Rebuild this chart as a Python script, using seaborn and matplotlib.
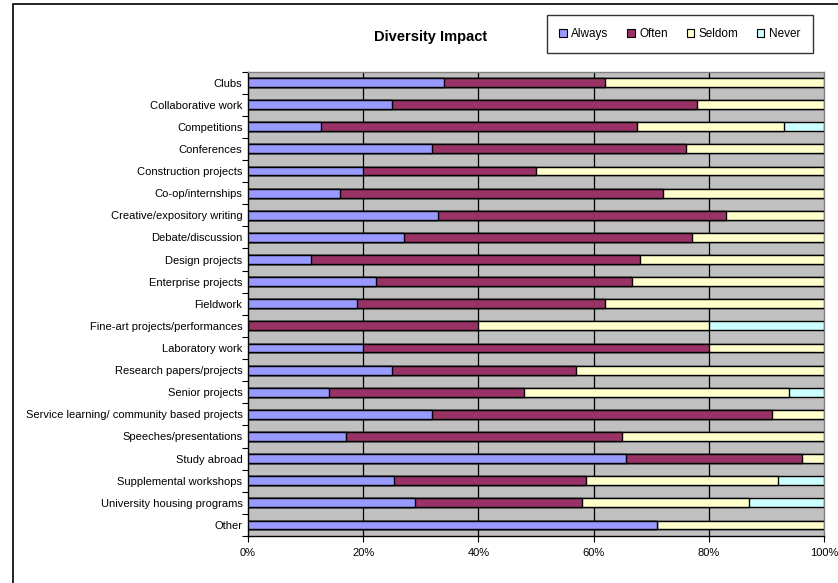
import matplotlib
matplotlib.use("Agg")
import matplotlib.pyplot as plt
from matplotlib.patches import Rectangle, Patch
import numpy as np
import pandas as pd
import seaborn as sns

categories = [
    "Clubs", "Collaborative work", "Competitions", "Conferences",
    "Construction projects", "Co-op/internships", "Creative/expository writing",
    "Debate/discussion", "Design projects", "Enterprise projects", "Fieldwork",
    "Fine-art projects/performances", "Laboratory work", "Research papers/projects",
    "Senior projects", "Service learning/ community based projects",
    "Speeches/presentations", "Study abroad", "Supplemental workshops",
    "University housing programs", "Other",
]
always = [34, 25, 12.7, 32, 20, 16, 33, 27, 11, 22.2, 19, 0, 20, 25, 14, 32, 17, 65.7, 25.3, 29, 71]
often = [28, 53, 54.9, 44, 30, 56, 50, 50, 57, 44.4, 43, 40, 60, 32, 34, 59, 48, 30.4, 33.3, 29, 0]
seldom = [38, 22, 25.5, 24, 50, 28, 17, 23, 32, 33.4, 38, 40, 20, 43, 46, 9, 35, 3.9, 33.4, 29, 29]
never = [0, 0, 6.9, 0, 0, 0, 0, 0, 0, 0, 0, 20, 0, 0, 6, 0, 0, 0, 8.0, 13, 0]

series_names = ["Always", "Often", "Seldom", "Never"]
series_colors = ["#9999FF", "#993366", "#FFFFCC", "#CCFFFF"]
tick_values = [0, 20, 40, 60, 80, 100]
tick_labels = ["0%", "20%", "40%", "60%", "80%", "100%"]

df = pd.DataFrame({"Category": categories, "Always": always, "Often": often,
                   "Seldom": seldom, "Never": never})
# cumulative right edges of each stacked segment
cum = df[series_names].cumsum(axis=1)
cum["Category"] = df["Category"]

sns.set_theme(style="white")
plt.rcParams["font.family"] = ["Liberation Sans", "DejaVu Sans"]

fig = plt.figure(figsize=(8.38, 5.83), dpi=100)
ax = fig.add_axes([248 / 838, 1 - 536 / 583, 576 / 838, (536 - 71.5) / 583])
ax.set_facecolor("#C0C0C0")

# draw from the longest cumulative segment back to the first so each layer shows
for name, color in reversed(list(zip(series_names, series_colors))):
    sns.barplot(data=cum, x=name, y="Category",
                orient="h", color=color, saturation=1, width=0.4,
                edgecolor="black", linewidth=1.0, ax=ax, zorder=3)

ax.set_xlim(0, 100)
ax.set_ylim(len(categories) - 0.5, -0.5)
ax.set_xticks(tick_values)
ax.set_xticklabels(tick_labels, fontsize=8)
ax.set_xlabel("")
ax.set_ylabel("")
ax.tick_params(axis="y", which="major", length=0, pad=4, labelsize=8)
ax.set_yticks(np.arange(len(categories) + 1) - 0.5, minor=True)
ax.tick_params(axis="y", which="minor", length=4, width=0.8, color="black", left=True, direction="out")
ax.tick_params(axis="x", which="major", length=4, width=0.8, color="black", bottom=True, direction="out", pad=5)
for lbl in ax.get_yticklabels() + ax.get_xticklabels():
    lbl.set_color("black")

for v in tick_values[1:-1]:
    ax.axvline(v, color="black", linewidth=0.9, zorder=1)

for side in ["left", "bottom"]:
    ax.spines[side].set_color("black")
    ax.spines[side].set_linewidth(1.0)
for side in ["top", "right"]:
    ax.spines[side].set_color("#808080")
    ax.spines[side].set_linewidth(1.0)

# outer chart border
fig.patches.append(Rectangle((13 / 838, -0.05), 1.2, 1 - 4 / 583 + 0.05,
                             transform=fig.transFigure, fill=False,
                             edgecolor="black", linewidth=1.2))

fig.text(431 / 838, 1 - 37 / 583, "Diversity Impact", ha="center", va="center",
         fontsize=10.5, fontweight="bold", color="black")

handles = [Patch(facecolor=c, edgecolor="black", linewidth=0.8, label=n)
           for n, c in zip(series_names, series_colors)]
leg = fig.legend(handles=handles, loc="center", ncol=4,
                 bbox_to_anchor=(680 / 838, 1 - 34 / 583),
                 fontsize=8.5, frameon=True, fancybox=False,
                 handlelength=0.6, handleheight=0.6, handletextpad=0.4,
                 columnspacing=1.6, borderpad=1.1, borderaxespad=0)
leg.get_frame().set_edgecolor("black")
leg.get_frame().set_linewidth(1.0)
leg.get_frame().set_facecolor("white")
for t in leg.get_texts():
    t.set_color("black")

fig.savefig("out.png", dpi=100)
